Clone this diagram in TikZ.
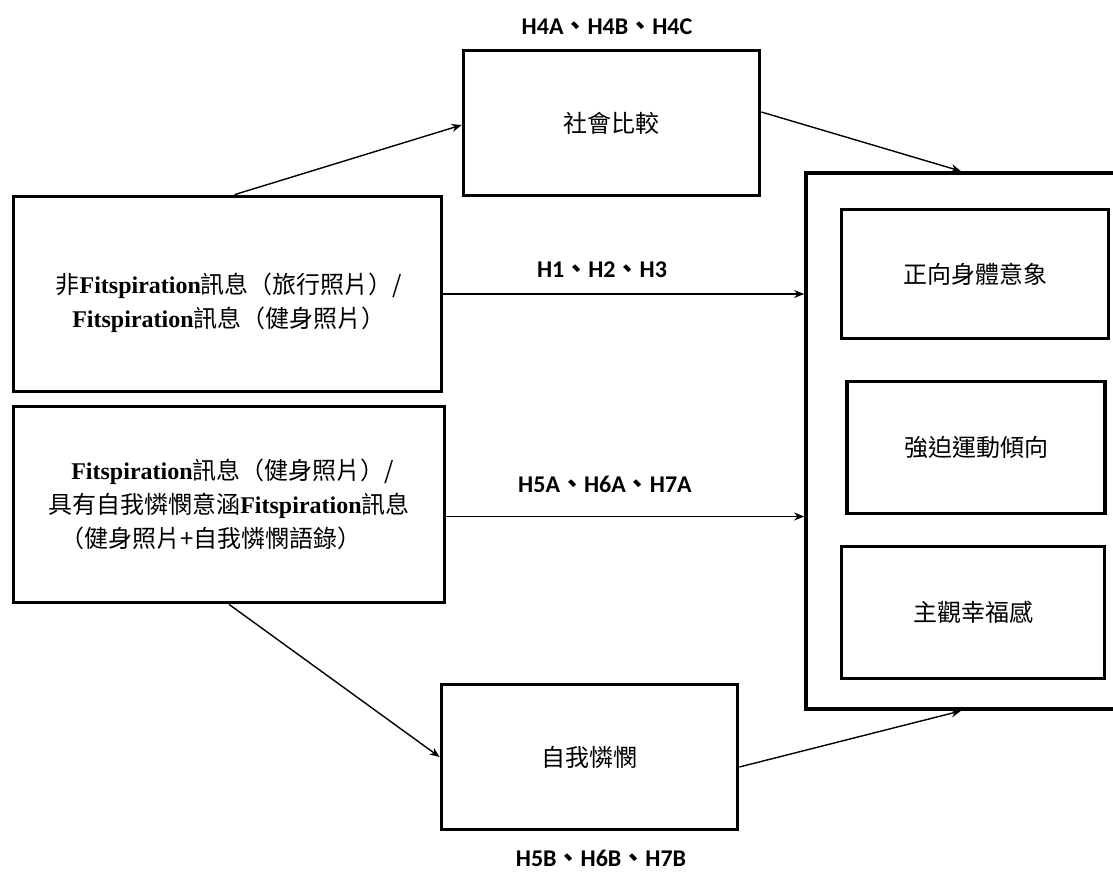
\documentclass[tikz,border=0pt]{standalone}
\usepackage{fontspec}
\setmainfont{Liberation Serif}
\newfontfamily\cjk{Noto Sans CJK TC}
\newfontfamily\hfont{Carlito}
\usepackage{tikz}
\usetikzlibrary{arrows.meta,positioning,calc}
\newcommand{\zh}[1]{{\cjk #1}}
\newcommand{\hy}[3]{{\hfont\bfseries #1\zh{、}#2\zh{、}#3}}

\begin{document}
\begin{tikzpicture}[x=1pt,y=-1pt,>={Stealth[length=10pt,width=8pt]},
  box/.style={draw,line width=3.7pt,inner sep=0pt,font=\fontsize{24}{34}\selectfont},
  txt/.style={inner sep=0pt,font=\fontsize{24}{34}\selectfont},
  lbl/.style={font=\fontsize{24}{28}\selectfont},
  arr/.style={->,line width=1.4pt}]
  \clip (0,0) rectangle (1113,871);
  % left boxes
  \node[box,minimum width=428,minimum height=195](msg1) at (227.5,294){};
  \node[txt,align=center](msg1t) at (229,303)
    {\zh{非}\textbf{Fitspiration}\zh{訊息（旅行照片）/}\\\textbf{Fitspiration}\zh{訊息（健身照片）}};
  \node[box,minimum width=431,minimum height=196,align=left](msg2) at (229,504.5)
    {\hspace*{23pt}\textbf{Fitspiration}\zh{訊息（健身照片）/}\\
     \zh{具有自我憐憫意涵}\textbf{Fitspiration}\zh{訊息}\\
     \hspace*{12pt}\zh{（健身照片+自我憐憫語錄）}};
  % mediators
  \node[box,minimum width=296,minimum height=145](comp) at (611.5,123){\zh{社會比較}};
  \node[box,minimum width=296,minimum height=145](pity) at (589.5,757){\zh{自我憐憫}};
  % outcomes
  \node[box,minimum width=310,minimum height=536](outc) at (961,441){};
  \node[box,minimum width=267,minimum height=129](body) at (975,274){\zh{正向身體意象}};
  \node[box,minimum width=258,minimum height=132](exer) at (976,447.5){\zh{強迫運動傾向}};
  \node[box,minimum width=263,minimum height=132](well) at (973,612.5){\zh{主觀幸福感}};
  % hypotheses
  \node[lbl](h4) at (607,27){\hy{H4A}{H4B}{H4C}};
  \node[lbl](h1) at (602,270){\hy{H1}{H2}{H3}};
  \node[lbl](h5a) at (605,484){\hy{H5A}{H6A}{H7A}};
  \node[lbl](h5b) at (601,858){\hy{H5B}{H6B}{H7B}};
  % paths
  \draw[arr]([xshift=7pt]msg1.north)--([yshift=-2pt]comp.west);
  \draw[arr]([yshift=11pt]comp.east)--(outc.north);
  \draw[arr](msg1.east)--(msg1.east -| outc.west);
  \draw[arr]([yshift=-12pt]msg2.east)--([yshift=-12pt]msg2.east -| outc.west);
  \draw[arr](msg2.south)--(pity.west);
  \draw[arr]([yshift=-10pt]pity.east)--(outc.south);
\end{tikzpicture}
\end{document}
